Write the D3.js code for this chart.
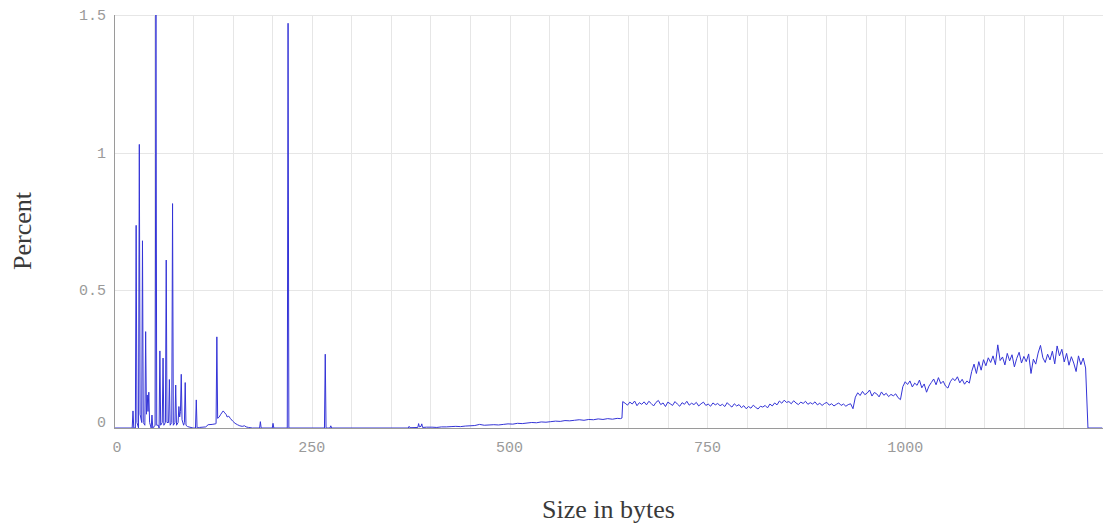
<!DOCTYPE html>
<html>
<head>
<meta charset="utf-8">
<script src="https://cdn.jsdelivr.net/npm/d3@7"></script>
<style>
  body { margin: 0; background: #fff; }
  .tick-label { font-family: "Liberation Mono", "DejaVu Sans Mono", monospace; font-size: 15px; fill: #9a9a9a; }
  .axis-title { font-family: "Liberation Serif", "DejaVu Serif", serif; font-size: 26px; fill: #3a3a3a; }
</style>
</head>
<body>
<div id="chart"></div>
<script>
// size (bytes) / percent
var headPoints = [
  [0,0],[23,0],[24,0.062],[25,0],[27,0],[28,0.736],[29,0.02],[31,0],[32,1.03],[33,0.05],
  [35,0.02],[36,0.68],[37,0.02],[39,0.01],[40,0.35],[41,0.05],[42,0.12],[43,0.06],[44,0.13],[45,0.02],
  [47,0],[48,0.047],[49,0],[52,0.01],[53,1.5],[54,0.01],[56,0.01],[57,0],[58,0.28],[59,0.01],
  [61,0.02],[62,0.254],[63,0.01],[65,0.02],[66,0.61],[67,0.02],[69,0.02],[70,0.176],[71,0.01],[73,0.02],
  [74,0.815],[75,0.01],[77,0.02],[78,0.156],[79,0.01],[81,0.02],[82,0.078],[83,0.04],[84,0.06],[85,0.195],
  [86,0.03],[88,0.01],[89,0.02],[90,0.165],[91,0.01],[93,0.005],[100,0],[103,0],[104,0.102],[105,0],
  [108,0.002],[116,0.004],[119,0.012],[124,0.013],[128,0.015],[129,0.016],[130,0.331],[131,0.035],[133,0.04],[135,0.05],
  [137,0.058],[138,0.062],[140,0.055],[142,0.048],[143,0.04],[145,0.043],[147,0.035],[150,0.025],[153,0.017],[156,0.012],
  [159,0.008],[162,0.006],[165,0.008],[167,0.004],[170,0.002],[175,0],[184,0],[185,0.023],[186,0],[200,0],
  [201,0.017],[202,0],[219,0],[220,1.47],[221,0],[266,0],[267,0.268],[268,0],[273,0],[274,0.008],
  [275,0],[372,0],[373,0.006],[374,0.001],[384,0.002],[385,0.016],[386,0.004],[388,0.006],[389,0.015],[390,0.002],
  [395,0.003]
];

var rampPoints = [
  [402,0.003],[408,0.002],[414,0.004],[420,0.004],[426,0.005],[432,0.006],[438,0.005],[444,0.007],[450,0.008],[456,0.009],
  [462,0.013],[468,0.010],[474,0.011],[480,0.012],[486,0.011],[492,0.013],[498,0.015],[504,0.014],[510,0.017],[516,0.016],
  [522,0.018],[528,0.020],[534,0.019],[540,0.022],[546,0.021],[552,0.023],[558,0.025],[564,0.024],[570,0.027],[576,0.026],
  [582,0.028],[588,0.030],[594,0.028],[600,0.031],[606,0.030],[612,0.033],[618,0.031],[624,0.034],[630,0.032],[636,0.035],
  [640,0.034],[642,0.036]
];

// from 643 bytes on, one reading every 3 bytes
var tailStart = 643, tailStep = 3;
var tailPercent = [
  0.096, 0.090, 0.083, 0.094, 0.087, 0.098, 0.081, 0.092, 0.086, 0.095,
  0.084, 0.097, 0.089, 0.080, 0.093, 0.100, 0.085, 0.091, 0.078, 0.094,
  0.088, 0.082, 0.096, 0.087, 0.079, 0.092, 0.086, 0.097, 0.083, 0.090,
  0.085, 0.093, 0.080, 0.088, 0.094, 0.082, 0.087, 0.079, 0.091, 0.084,
  0.089, 0.081, 0.086, 0.078, 0.092, 0.083, 0.076, 0.088, 0.080, 0.085,
  0.074, 0.081, 0.070, 0.078, 0.072, 0.083, 0.075, 0.069, 0.079, 0.076,
  0.082, 0.073, 0.087, 0.080, 0.091, 0.084, 0.098, 0.090, 0.101, 0.093,
  0.096, 0.088, 0.099, 0.091, 0.085, 0.094, 0.089, 0.097, 0.086, 0.092,
  0.087, 0.095, 0.084, 0.090, 0.082, 0.089, 0.093, 0.083, 0.088, 0.080,
  0.086, 0.091, 0.082, 0.087, 0.079, 0.085, 0.088, 0.070, 0.112, 0.128,
  0.118, 0.133, 0.121, 0.127, 0.138, 0.116, 0.129, 0.124, 0.113, 0.131,
  0.119, 0.126, 0.114, 0.122, 0.117, 0.124, 0.110, 0.103, 0.150, 0.168,
  0.158, 0.171, 0.149, 0.163, 0.155, 0.174, 0.146, 0.160, 0.130, 0.152,
  0.165, 0.178, 0.157, 0.183, 0.161, 0.170, 0.152, 0.145, 0.168, 0.180,
  0.172, 0.186, 0.164, 0.177, 0.159, 0.171, 0.163, 0.205, 0.232, 0.198,
  0.241, 0.210, 0.248, 0.226, 0.255, 0.238, 0.262, 0.230, 0.302, 0.245,
  0.258, 0.229, 0.271, 0.244, 0.266, 0.222, 0.253, 0.275, 0.236, 0.260,
  0.241, 0.269, 0.198, 0.250, 0.232, 0.272, 0.300, 0.255, 0.238, 0.268,
  0.247, 0.279, 0.233, 0.298, 0.262, 0.286, 0.240, 0.271, 0.228, 0.259,
  0.236, 0.205, 0.262, 0.230, 0.254, 0.218
];

var endPoints = [[1231,0],[1249,0]];

var xTicks = [0, 250, 500, 750, 1000];
var yTicks = [0, 0.5, 1, 1.5];
var yTickLabels = ["0", "0.5", "1", "1.5"];

var w = 1105, h = 525
    , marginTop = 15, marginBottom = 97, marginLeft = 114, marginRight = 2
    , contentsWidth = w - marginLeft - marginRight, contentsHeight = h - marginTop - marginBottom;

var data = headPoints.concat(rampPoints);
tailPercent.forEach(function(v, i) { data.push([tailStart + i * tailStep, v]); });
data = data.concat(endPoints);

var svg = d3.select("div#chart")
    .append("svg")
    .attr("width", w)
    .attr("height", h);

var chartG = svg.append("g")
    .attr("transform", "translate(" + marginLeft + ", " + marginTop + ")");

var xScale = d3.scaleLinear().domain([0, 1250]).range([0, contentsWidth]);
var yScale = d3.scaleLinear().domain([0, 1.5]).range([contentsHeight, 0]);

// grid
chartG.append("g").selectAll("line")
    .data(d3.range(50, 1250, 50))
    .enter().append("line")
    .attr("x1", function(d) { return Math.round(xScale(d)) + 0.5; })
    .attr("x2", function(d) { return Math.round(xScale(d)) + 0.5; })
    .attr("y1", 0)
    .attr("y2", contentsHeight)
    .style("stroke", "#e6e6e6");

chartG.append("g").selectAll("line")
    .data(yTicks.slice(1))
    .enter().append("line")
    .attr("x1", 0)
    .attr("x2", contentsWidth)
    .attr("y1", function(d) { return Math.round(yScale(d)) + 0.5; })
    .attr("y2", function(d) { return Math.round(yScale(d)) + 0.5; })
    .style("stroke", "#e6e6e6");

svg.append("clipPath").attr("id", "plotClip")
  .append("rect")
    .attr("x", 0).attr("y", -1)
    .attr("width", contentsWidth).attr("height", contentsHeight + 2);

var line = d3.line()
    .x(function(d) { return xScale(d[0]); })
    .y(function(d) { return yScale(d[1]); });

chartG.append("path")
    .datum(data)
    .attr("clip-path", "url(#plotClip)")
    .attr("d", line)
    .style("fill", "none")
    .style("stroke", "rgb(52,52,215)")
    .style("stroke-width", 1)
    .style("stroke-linejoin", "round");

// axes lines
chartG.append("line")
    .attr("x1", 0.5).attr("x2", 0.5)
    .attr("y1", 0).attr("y2", contentsHeight)
    .style("stroke", "#9a9a9a");
chartG.append("line")
    .attr("x1", 0).attr("x2", contentsWidth)
    .attr("y1", contentsHeight + 0.5).attr("y2", contentsHeight + 0.5)
    .style("stroke", "#9a9a9a");

// tick labels
chartG.append("g").selectAll("text")
    .data(yTicks)
    .enter().append("text")
    .attr("class", "tick-label")
    .attr("x", -8)
    .attr("y", function(d) { return d == 0 ? yScale(d) - 5 : yScale(d) + 1; })
    .attr("text-anchor", "end")
    .attr("dominant-baseline", "middle")
    .text(function(d, i) { return yTickLabels[i]; });

chartG.append("g").selectAll("text")
    .data(xTicks)
    .enter().append("text")
    .attr("class", "tick-label")
    .attr("x", function(d) { return d == 0 ? xScale(d) + 3 : xScale(d); })
    .attr("y", contentsHeight + 24)
    .attr("text-anchor", "middle")
    .text(function(d) { return d; });

// titles
svg.append("text")
    .attr("class", "axis-title")
    .attr("transform", "translate(31, 231) rotate(-90)")
    .attr("text-anchor", "middle")
    .text("Percent");

svg.append("text")
    .attr("class", "axis-title")
    .attr("x", marginLeft + contentsWidth / 2)
    .attr("y", 518)
    .attr("text-anchor", "middle")
    .text("Size in bytes");
</script>
</body>
</html>
